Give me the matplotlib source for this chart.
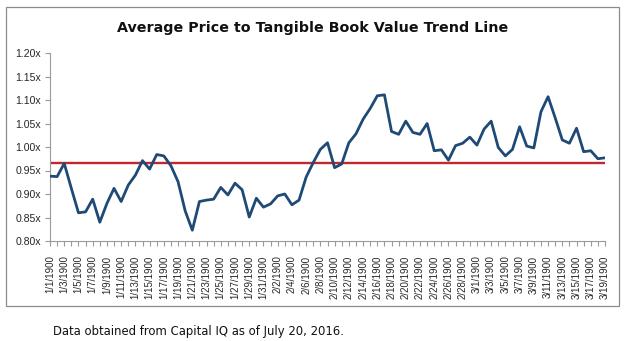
import matplotlib
matplotlib.use("Agg")
import matplotlib.pyplot as plt
from matplotlib.patches import Rectangle

# ── data ─────────────────────────────────────────────────────────────────────
# Excel-style 1900 dates (includes the fake 2/29/1900)
month_days = [(1, 31), (2, 29), (3, 19)]
dates = [f"{m}/{d}/1900" for m, n in month_days for d in range(1, n + 1)]

p_tbv = [
    0.938, 0.937, 0.965, 0.912, 0.860, 0.862, 0.889, 0.840, 0.880, 0.912,
    0.884, 0.919, 0.940, 0.971, 0.953, 0.984, 0.981, 0.960, 0.926, 0.864,
    0.823, 0.884, 0.887, 0.889, 0.914, 0.898, 0.923, 0.909, 0.851, 0.891,
    0.872, 0.879, 0.896, 0.900, 0.877, 0.887, 0.936, 0.967, 0.995, 1.009,
    0.956, 0.964, 1.009, 1.028, 1.059, 1.082, 1.109, 1.111, 1.033, 1.027,
    1.055, 1.031, 1.027, 1.050, 0.992, 0.994, 0.972, 1.003, 1.008, 1.021,
    1.004, 1.038, 1.055, 0.999, 0.981, 0.995, 1.043, 1.002, 0.998, 1.075,
    1.107, 1.062, 1.015, 1.008, 1.040, 0.990, 0.992, 0.975, 0.977,
]
avg_value = 0.967

y_ticks = [0.80, 0.85, 0.90, 0.95, 1.00, 1.05, 1.10, 1.15, 1.20]

title = "Average Price to Tangible Book Value Trend Line"
footnote = "Data obtained from Capital IQ as of July 20, 2016."

# ── plot ─────────────────────────────────────────────────────────────────────
W, H = 627, 341
fig = plt.figure(figsize=(W / 100, H / 100), dpi=100)
ax = fig.add_axes([50 / W, 1 - 241 / H, 555 / W, 188 / H])

x = list(range(len(dates)))
ax.axhline(avg_value, color="#C0282D", lw=1.7, zorder=2)
ax.plot(x, p_tbv, color="#1F4A75", lw=2.0, zorder=3)

ax.set_xlim(0, len(dates) - 1)
ax.set_ylim(y_ticks[0], y_ticks[-1])
ax.set_yticks(y_ticks)
ax.set_yticklabels([f"{v:.2f}x" for v in y_ticks], family="Liberation Sans")
ax.set_xticks(x[::2])
ax.set_xticklabels(dates[::2], rotation=90, family="Liberation Sans")
ax.set_xticks(x, minor=True)

for side in ["top", "right"]:
    ax.spines[side].set_visible(False)
for side in ["left", "bottom"]:
    ax.spines[side].set_color("#9A9A9A")
    ax.spines[side].set_linewidth(0.8)
ax.tick_params(axis="both", which="both", colors="#9A9A9A", length=3.5,
               width=0.8, labelcolor="#262626")
ax.tick_params(axis="y", labelsize=7.6, pad=3)
ax.tick_params(axis="x", labelsize=7.0, pad=7)

fig.text(313 / W, 1 - 28 / H, title, ha="center", va="center",
         fontsize=10.3, fontweight="bold", color="#111111")
fig.text(53 / W, 1 - 331 / H, footnote, ha="left", va="center",
         fontsize=8.4, color="#111111")

fig.patches.append(Rectangle((6 / W, 1 - 306 / H), 613 / W, 299 / H,
                             transform=fig.transFigure, fill=False,
                             edgecolor="#8C8C8C", lw=0.9))

fig.savefig("out.png", dpi=100)
